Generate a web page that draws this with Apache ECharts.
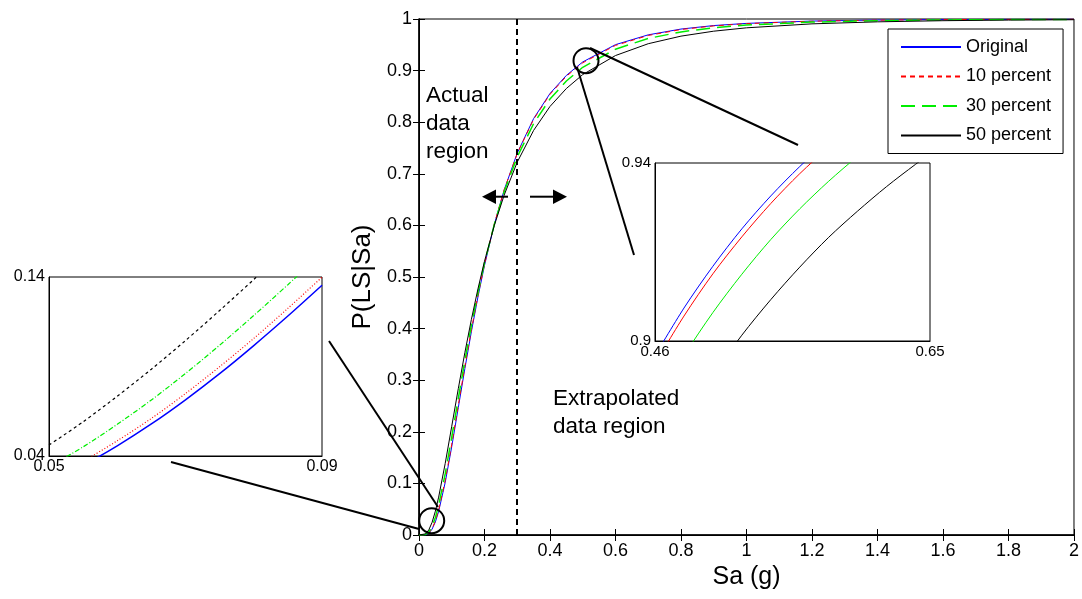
<!DOCTYPE html>
<html>
<head>
<meta charset="utf-8">
<script src="https://cdn.jsdelivr.net/npm/echarts@6/dist/echarts.min.js"></script>
<style>
html, body { margin: 0; padding: 0; background: #fff; }
#main { width: 1082px; height: 599px; }
</style>
</head>
<body>
<div id="main"></div>
<script>
// fragility curves
var names = ['Original', '10 percent', '30 percent', '50 percent'];
var colors = ['#0000ff', '#ff0000', '#00ee00', '#000000'];

var sa = [0, 0.02, 0.03, 0.04, 0.05, 0.06, 0.08, 0.10, 0.12, 0.14, 0.16, 0.18, 0.20, 0.23, 0.26, 0.30,
	0.35, 0.40, 0.45, 0.50, 0.60, 0.70, 0.80, 0.90, 1.0, 1.2, 1.4, 1.6, 1.8, 2.0];
var pOriginal = [0, 0.0005, 0.0035, 0.0114, 0.0254, 0.0457, 0.1017, 0.1713, 0.247, 0.3224, 0.3943, 0.4613, 0.5225, 0.6018, 0.6686, 0.740,
	0.807, 0.8556, 0.8907, 0.9168, 0.9503, 0.9693, 0.9805, 0.9873, 0.9915, 0.9960, 0.9980, 0.9989, 0.9994, 0.9997];
var p10 = [0, 0.0006, 0.0040, 0.0125, 0.0273, 0.0485, 0.1057, 0.176, 0.2518, 0.3269, 0.398, 0.4644, 0.5248, 0.603, 0.669, 0.7394,
	0.8056, 0.854, 0.889, 0.9151, 0.9488, 0.9681, 0.9796, 0.9866, 0.9910, 0.9957, 0.9978, 0.9988, 0.9993, 0.9996];
var p30 = [0, 0.0011, 0.0058, 0.0166, 0.0340, 0.0577, 0.1184, 0.1898, 0.2648, 0.3378, 0.4063, 0.4697, 0.5274, 0.602, 0.6651, 0.7329,
	0.7973, 0.8449, 0.8799, 0.9064, 0.9415, 0.9623, 0.9750, 0.9831, 0.9882, 0.9940, 0.9968, 0.9982, 0.9989, 0.9993];
var p50 = [0, 0.0022, 0.0099, 0.0246, 0.0461, 0.0734, 0.1385, 0.2107, 0.2837, 0.3533, 0.4178, 0.4769, 0.5305, 0.5999, 0.6587, 0.7226,
	0.7841, 0.8305, 0.8653, 0.8923, 0.9292, 0.9521, 0.9668, 0.9764, 0.9829, 0.9906, 0.9945, 0.9967, 0.9979, 0.9986];

// left zoom box (low tail)
var leftSa = [0.05, 0.055, 0.06, 0.065, 0.07, 0.075, 0.08, 0.085, 0.09];
var leftOriginal = [0.0254, 0.0348, 0.0457, 0.0579, 0.0714, 0.0860, 0.1017, 0.1182, 0.1354];
var left10 = [0.0273, 0.0371, 0.0485, 0.0610, 0.0749, 0.0899, 0.1057, 0.1225, 0.1399];
var left30 = [0.0340, 0.0451, 0.0577, 0.0713, 0.0861, 0.1019, 0.1185, 0.1357, 0.1535];
var left50 = [0.0461, 0.0591, 0.0734, 0.0885, 0.1045, 0.1213, 0.1386, 0.1563, 0.173];

// right zoom box (upper tail)
var rightSa = [0.46, 0.48, 0.50, 0.52, 0.54, 0.56, 0.58, 0.60, 0.62, 0.64, 0.65];
var rightOriginal = [0.8967, 0.9074, 0.9168, 0.9252, 0.9326, 0.9392, 0.9451, 0.9503, 0.9550, 0.9592, 0.9611];
var right10 = [0.8949, 0.9056, 0.9151, 0.9234, 0.9309, 0.9376, 0.9435, 0.9488, 0.9535, 0.9578, 0.9598];
var right30 = [0.8859, 0.8967, 0.9064, 0.9150, 0.9228, 0.9297, 0.9359, 0.9415, 0.9466, 0.9511, 0.9532];
var right50 = [0.8714, 0.8824, 0.8923, 0.9013, 0.9093, 0.9166, 0.9233, 0.9292, 0.9347, 0.9397, 0.9420];

var xTicks = [0, 2, 0.2];
var yTicks = [0, 1, 0.1];
var leftBox = {x: [0.05, 0.09], y: [0.04, 0.14]};
var rightBox = {x: [0.46, 0.65], y: [0.9, 0.94]};
var cutoff = 0.303;

function pairs(xs, ys) {
	var out = [];
	for (var i = 0; i < xs.length; i++) out.push([xs[i], ys[i]]);
	return out;
}

var FONT = '"Liberation Sans", Arial, sans-serif';
var chart = echarts.init(document.getElementById('main'));

var mainDash = ['solid', [5, 4], [14, 7], 'solid'];
var mainWidth = [1, 1, 1.5, 1];
var leftDash = ['solid', [1, 2], [5, 2, 1, 2], [3, 3]];
var leftWidth = [1.5, 1.2, 1.2, 1.2];

var mainData = [pOriginal, p10, p30, p50];
var leftData = [leftOriginal, left10, left30, left50];
var rightData = [rightOriginal, right10, right30, right50];

var series = [];
for (var i = 0; i < 4; i++) {
	var s = {
		name: names[i],
		type: 'line',
		xAxisIndex: 0,
		yAxisIndex: 0,
		showSymbol: false,
		symbol: 'none',
		smooth: false,
		data: pairs(sa, mainData[i]),
		lineStyle: {color: colors[i], width: mainWidth[i], type: mainDash[i]},
		itemStyle: {color: colors[i]},
		z: 3
	};
	if (i == 0) {
		s.markLine = {
			silent: true,
			symbol: ['none', 'none'],
			label: {show: false},
			lineStyle: {color: '#000', width: 2, type: [6, 4]},
			data: [{xAxis: cutoff}]
		};
	}
	series.push(s);
}
for (var i = 0; i < 4; i++) {
	series.push({
		name: names[i] + ' (low)',
		type: 'line',
		xAxisIndex: 2,
		yAxisIndex: 2,
		symbol: 'none',
		smooth: 0.3,
		data: pairs(leftSa, leftData[i]),
		lineStyle: {color: colors[i], width: leftWidth[i], type: leftDash[i]}
	});
	series.push({
		name: names[i] + ' (high)',
		type: 'line',
		xAxisIndex: 3,
		yAxisIndex: 3,
		symbol: 'none',
		smooth: 0.3,
		data: pairs(rightSa, rightData[i]),
		lineStyle: {color: colors[i], width: 1, type: 'solid'}
	});
}

function insetX(grid, box, size) {
	return {
		gridIndex: grid, type: 'value', min: box.x[0], max: box.x[1],
		axisLine: {show: true, lineStyle: {color: '#000', width: 1}},
		axisTick: {show: false},
		splitLine: {show: false},
		axisLabel: {customValues: box.x, color: '#000', fontSize: size, fontFamily: FONT, margin: 3}
	};
}
function insetY(grid, box, size) {
	return {
		gridIndex: grid, type: 'value', min: box.y[0], max: box.y[1],
		axisLine: {show: true, lineStyle: {color: '#000', width: 1}},
		axisTick: {show: false},
		splitLine: {show: false},
		axisLabel: {customValues: box.y, color: '#000', fontSize: size, fontFamily: FONT, margin: 4}
	};
}

var option = {
	animation: false,
	textStyle: {fontFamily: FONT},
	grid: [
		{left: 419, top: 19, width: 655, height: 516, show: true, borderColor: '#000', borderWidth: 1},
		{left: 49, top: 277, width: 273, height: 179, show: true, borderColor: '#000', borderWidth: 1, backgroundColor: '#fff'},
		{left: 655, top: 163, width: 275, height: 178, show: true, borderColor: '#000', borderWidth: 1, backgroundColor: '#fff'}
	],
	legend: {
		data: names,
		orient: 'vertical',
		left: 888,
		top: 29,
		itemWidth: 60,
		itemHeight: 14,
		itemGap: 11.5,
		padding: [9, 12, 9, 12],
		borderColor: '#000',
		borderWidth: 1,
		backgroundColor: '#fff',
		itemStyle: {color: 'rgba(0,0,0,0)', borderWidth: 0, opacity: 0},
		textStyle: {fontSize: 18, color: '#000', fontFamily: FONT},
		z: 10
	},
	xAxis: [
		{
			gridIndex: 0, type: 'value', min: xTicks[0], max: xTicks[1], interval: xTicks[2],
			name: 'Sa (g)', nameLocation: 'middle', nameGap: 29,
			nameTextStyle: {fontSize: 25, color: '#000', fontFamily: FONT},
			axisLine: {lineStyle: {color: '#000', width: 1.5}},
			axisTick: {inside: true, length: 6, lineStyle: {color: '#000'}},
			splitLine: {show: false},
			axisLabel: {fontSize: 18, color: '#000', margin: 7, fontFamily: FONT}
		},
		{
			gridIndex: 0, type: 'value', position: 'top', min: xTicks[0], max: xTicks[1], interval: xTicks[2],
			axisLine: {lineStyle: {color: '#000', width: 1}},
			axisTick: {inside: true, length: 6, lineStyle: {color: '#000'}},
			splitLine: {show: false},
			axisLabel: {show: false}
		},
		insetX(1, leftBox, 16),
		insetX(2, rightBox, 15)
	],
	yAxis: [
		{
			gridIndex: 0, type: 'value', min: yTicks[0], max: yTicks[1], interval: yTicks[2],
			name: 'P(LS|Sa)', nameLocation: 'middle', nameGap: 31,
			nameTextStyle: {fontSize: 26, color: '#000', fontFamily: FONT},
			axisLine: {lineStyle: {color: '#000', width: 1.5}},
			axisTick: {inside: true, length: 6, lineStyle: {color: '#000'}},
			splitLine: {show: false},
			axisLabel: {fontSize: 18, color: '#000', margin: 7, fontFamily: FONT}
		},
		{
			gridIndex: 0, type: 'value', position: 'right', min: yTicks[0], max: yTicks[1], interval: yTicks[2],
			axisLine: {lineStyle: {color: '#000', width: 1}},
			axisTick: {inside: true, length: 6, lineStyle: {color: '#000'}},
			splitLine: {show: false},
			axisLabel: {show: false}
		},
		insetY(1, leftBox, 16),
		insetY(2, rightBox, 15)
	],
	graphic: [
		// zoom circles and leader lines
		{type: 'circle', shape: {cx: 431.7, cy: 520.7, r: 12.5}, style: {fill: 'none', stroke: '#000', lineWidth: 2}, z: 20},
		{type: 'circle', shape: {cx: 586, cy: 60.7, r: 12.5}, style: {fill: 'none', stroke: '#000', lineWidth: 2}, z: 20},
		{type: 'line', shape: {x1: 171, y1: 462, x2: 419, y2: 529}, style: {stroke: '#000', lineWidth: 2}, z: 20},
		{type: 'line', shape: {x1: 329, y1: 341, x2: 438, y2: 507}, style: {stroke: '#000', lineWidth: 2}, z: 20},
		{type: 'line', shape: {x1: 590, y1: 48, x2: 798, y2: 145}, style: {stroke: '#000', lineWidth: 2}, z: 20},
		{type: 'line', shape: {x1: 577, y1: 67, x2: 634, y2: 255}, style: {stroke: '#000', lineWidth: 2}, z: 20},
		// arrows either side of the cut-off line
		{type: 'line', shape: {x1: 494, y1: 196.7, x2: 508, y2: 196.7}, style: {stroke: '#000', lineWidth: 2}, z: 20},
		{type: 'polygon', shape: {points: [[482, 196.7], [496, 189.5], [496, 204]]}, style: {fill: '#000'}, z: 20},
		{type: 'line', shape: {x1: 530, y1: 196.7, x2: 555, y2: 196.7}, style: {stroke: '#000', lineWidth: 2}, z: 20},
		{type: 'polygon', shape: {points: [[567, 196.7], [553, 189.5], [553, 204]]}, style: {fill: '#000'}, z: 20},
		{type: 'text', left: 426, top: 82, z: 20,
			style: {text: 'Actual\ndata\nregion', fontSize: 22.5, lineHeight: 28, fill: '#000', fontFamily: FONT}},
		{type: 'text', left: 553, top: 385, z: 20,
			style: {text: 'Extrapolated\ndata region', fontSize: 22.5, lineHeight: 28, fill: '#000', fontFamily: FONT}}
	],
	series: series
};

chart.setOption(option);
</script>
</body>
</html>
